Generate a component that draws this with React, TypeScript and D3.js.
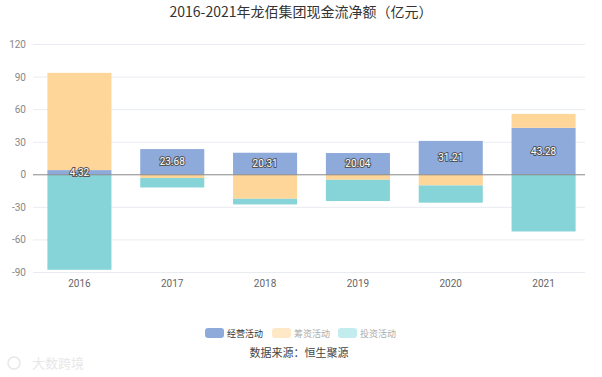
import React from "react";
import * as d3 from "d3";

const categories = ["2016", "2017", "2018", "2019", "2020", "2021"];
const operating = [4.32, 23.68, 20.31, 20.04, 31.21, 43.28];
const financing = [89.6, -3.0, -22.1, -4.6, -9.8, 12.8];
const investing = [-87.5, -8.7, -5.2, -19.6, -15.9, -52.2];
const yTicks = [-90, -60, -30, 0, 30, 60, 90, 120];
const seriesNames = ["经营活动", "筹资活动", "投资活动"];
const colors = ["#8eaadb", "#ffd699", "#86d4d8"];
const legendColors = ["#8eaadb", "#ffe8c6", "#c2ecee"];

const W = 602;
const H = 377;

export default function App() {
  const x = d3
    .scaleBand<string>()
    .domain(categories)
    .range([33, 590])
    .paddingInner(0.31)
    .paddingOuter(0.155);
  const y = d3.scaleLinear().domain([-90, 120]).range([272.5, 44.5]);

  const series = [operating, financing, investing];
  const rects: any[] = [];
  categories.forEach((c, i) => {
    let pos = 0;
    let neg = 0;
    series.forEach((s, si) => {
      const v = s[i];
      let y0, y1;
      if (v >= 0) {
        y0 = pos;
        y1 = pos + v;
        pos = y1;
      } else {
        y0 = neg;
        y1 = neg + v;
        neg = y1;
      }
      rects.push({ c, si, y0, y1, v });
    });
  });

  const legendX = [205, 272, 338];

  return (
    <svg width={W} height={H} style={{ position: "absolute", left: 0, top: 0, fontFamily: "'Noto Sans CJK SC', 'Noto Sans', sans-serif" }}>
      <rect width={W} height={H} fill="#fff" />
      <text x={W / 2} y={17} textAnchor="middle" fontSize={14} fill="#333">
        2016-2021年龙佰集团现金流净额（亿元）
      </text>
      {yTicks.map((t) => (
        <g key={t}>
          {t !== 0 && (
            <line x1={33} x2={585} y1={y(t)} y2={y(t)} stroke="#e8ecf2" strokeWidth={1} />
          )}
          <text x={26} y={y(t) + 3.5} textAnchor="end" fontSize={10} fill="#888" fontFamily="Roboto, 'Liberation Sans', sans-serif">
            {t}
          </text>
        </g>
      ))}
      {rects.map((r, k) => {
        const top = y(Math.max(r.y0, r.y1));
        const bot = y(Math.min(r.y0, r.y1));
        return (
          <rect
            key={k}
            x={x(r.c)}
            y={top}
            width={x.bandwidth()}
            height={Math.max(0, bot - top)}
            fill={colors[r.si]}
          />
        );
      })}
      <line x1={33} x2={585} y1={y(0)} y2={y(0)} stroke="#888" strokeWidth={1} />
      {categories.map((c, i) => (
        <text
          key={c}
          x={(x(c) as number) + x.bandwidth() / 2}
          y={y(operating[i] / 2) + 3.5}
          textAnchor="middle"
          fontSize={10}
          fill="#fff"
          stroke="#555"
          strokeWidth={2}
          paintOrder="stroke"
          fontFamily="Roboto, 'Liberation Sans', sans-serif"
        >
          {operating[i].toFixed(2)}
        </text>
      ))}
      {categories.map((c) => (
        <text
          key={"x" + c}
          x={(x(c) as number) + x.bandwidth() / 2}
          y={287}
          textAnchor="middle"
          fontSize={10}
          fill="#666"
          fontFamily="Roboto, 'Liberation Sans', sans-serif"
        >
          {c}
        </text>
      ))}
      {seriesNames.map((n, i) => (
        <g key={n}>
          <rect x={legendX[i]} y={328} width={19} height={10} rx={3} fill={legendColors[i]} />
          <text x={legendX[i] + 22} y={337} fontSize={9} fill={i === 0 ? "#333" : "#aaa"}>
            {n}
          </text>
        </g>
      ))}
      <text x={299} y={357} textAnchor="middle" fontSize={11} fill="#444">
        数据来源：恒生聚源
      </text>
      <g opacity={0.35}>
        <circle cx={14} cy={363} r={6} fill="none" stroke="#bbb" strokeWidth={1.5} />
        <text x={32} y={368} fontSize={13} fill="#bbb">
          大数跨境
        </text>
      </g>
    </svg>
  );
}
